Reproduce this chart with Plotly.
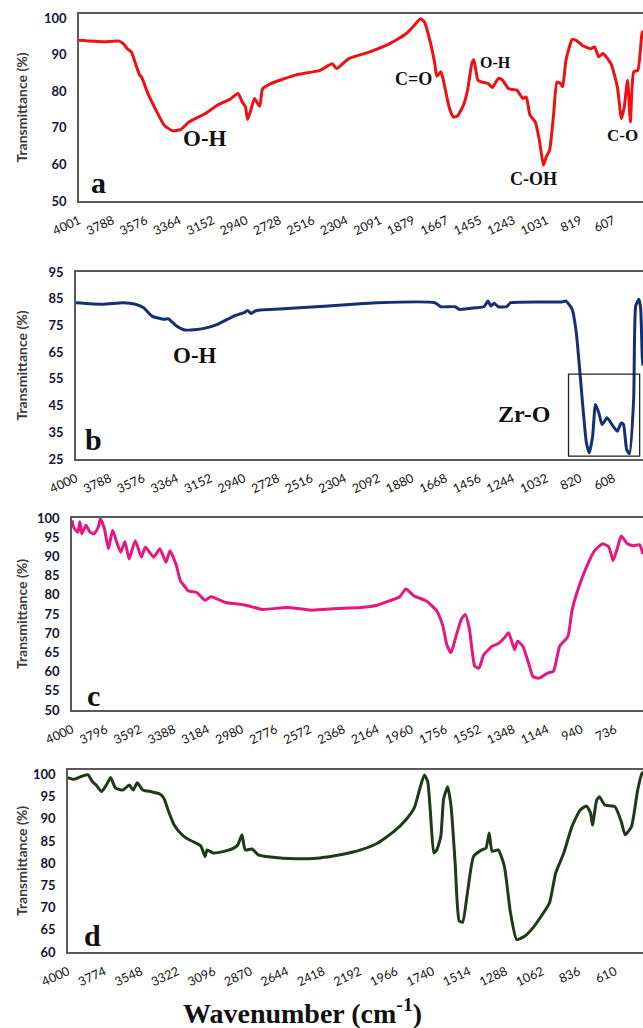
import plotly.graph_objects as go

W, H = 643, 1028

# ---------------- data ----------------
wn_a = [4001, 3850, 3746, 3720, 3694, 3668, 3642, 3616, 3604, 3564, 3512, 3460, 3408, 3356, 3303, 3199,
        3121, 3043, 2991, 2965, 2944, 2931, 2913, 2887, 2866, 2853, 2835, 2783, 2627, 2471, 2393, 2366,
        2327, 2288, 2158, 2028, 1924, 1872, 1833, 1807, 1768, 1742, 1729, 1703, 1685, 1651, 1625, 1599,
        1560, 1534, 1507, 1494, 1468, 1442, 1403, 1377, 1338, 1312, 1273, 1221, 1182, 1161, 1138, 1104,
        1078, 1052, 1034, 1013, 987, 966, 943, 930, 909, 870, 844, 805, 753, 727, 701, 675, 623, 583,
        557, 539, 518, 500, 479, 453, 427, 420]
tr_a = [93.9, 93.5, 93.7, 93.0, 91.6, 90.7, 87.5, 84.4, 83.9, 79.4, 74.8, 70.7, 69.2, 69.5, 71.6, 73.9,
        76.2, 77.8, 79.4, 77.1, 75.7, 72.3, 74.4, 78.0, 76.6, 75.9, 80.7, 82.1, 84.4, 85.7, 87.5, 86.2,
        87.5, 88.9, 90.7, 93.0, 95.7, 98.0, 99.8, 98.9, 93.0, 87.5, 84.1, 85.3, 82.5, 75.7, 73.0, 73.2,
        76.2, 80.3, 87.5, 88.6, 83.0, 82.5, 82.1, 81.0, 83.5, 83.0, 80.7, 80.3, 78.0, 78.4, 73.5, 71.6,
        66.6, 59.8, 62.1, 63.9, 73.9, 82.5, 82.1, 81.2, 88.5, 94.1, 93.9, 92.5, 91.6, 92.1, 89.4, 90.3,
        87.5, 81.2, 72.5, 75.7, 83.0, 71.6, 85.3, 85.7, 95.7, 96.5]

wn_b = [4000, 3832, 3702, 3625, 3573, 3521, 3444, 3418, 3366, 3314, 3237, 3185, 3107, 3004, 2939, 2918,
        2895, 2862, 2668, 2409, 2098, 1736, 1697, 1607, 1581, 1477, 1426, 1400, 1382, 1361, 1335, 1283,
        1257, 934, 908, 869, 843, 818, 800, 779, 761, 740, 722, 701, 680, 649, 611, 585, 559, 545, 525,
        507, 481, 468, 448, 437, 427, 422]
tr_b = [83.5, 82.9, 83.5, 82.9, 81.6, 78.5, 77.3, 77.5, 74.8, 73.3, 73.5, 74.0, 75.4, 78.5, 79.8, 80.6,
        79.5, 80.6, 81.3, 82.3, 83.5, 83.5, 82.0, 82.0, 81.0, 81.6, 82.0, 84.1, 82.3, 83.3, 82.0, 82.0,
        83.5, 83.8, 84.1, 81.0, 72.3, 56.0, 43.5, 31.0, 27.3, 33.5, 45.4, 42.3, 37.9, 40.4, 37.3, 35.4,
        38.5, 37.9, 28.5, 27.0, 47.3, 82.3, 84.8, 81.6, 63.5, 60.0]

wn_c = [4000, 3990, 3965, 3953, 3941, 3916, 3892, 3867, 3842, 3830, 3805, 3781, 3756, 3731, 3707, 3682,
        3657, 3620, 3583, 3559, 3509, 3472, 3435, 3411, 3374, 3349, 3324, 3300, 3250, 3201, 3164, 3078,
        2955, 2856, 2708, 2560, 2412, 2264, 2166, 2092, 2030, 1993, 1944, 1870, 1808, 1771, 1747, 1722,
        1692, 1660, 1636, 1611, 1579, 1554, 1525, 1475, 1438, 1401, 1377, 1357, 1340, 1322, 1290, 1253,
        1229, 1192, 1142, 1106, 1069, 1019, 995, 958, 908, 859, 810, 773, 748, 723, 699, 662, 625, 588,
        568]
tr_c = [99.4, 97.6, 96.3, 99.0, 95.9, 98.1, 96.3, 95.9, 97.6, 99.8, 97.2, 92.0, 96.8, 93.7, 91.1, 93.9,
        89.3, 94.1, 89.8, 92.4, 89.8, 92.0, 88.5, 91.5, 87.8, 83.7, 82.3, 81.0, 80.6, 78.6, 79.5, 78.0,
        77.3, 76.2, 76.7, 76.0, 76.4, 76.7, 77.3, 78.4, 79.5, 81.5, 79.7, 78.4, 75.8, 71.9, 67.0, 64.9,
        69.2, 73.6, 74.9, 71.0, 61.4, 60.9, 64.4, 66.6, 67.3, 68.8, 70.1, 67.9, 65.7, 67.9, 66.6, 61.8,
        58.7, 58.3, 59.6, 60.1, 66.6, 69.2, 75.8, 81.5, 87.2, 91.5, 93.3, 92.4, 88.9, 92.0, 95.3, 93.3,
        92.8, 93.0, 90.6]

wn_d = [4000, 3964, 3914, 3875, 3850, 3825, 3792, 3756, 3736, 3705, 3659, 3621, 3596, 3571, 3537, 3482,
        3431, 3405, 3380, 3342, 3304, 3266, 3227, 3177, 3151, 3138, 3100, 3011, 2973, 2948, 2922, 2902,
        2859, 2821, 2745, 2592, 2440, 2313, 2186, 2084, 1982, 1906, 1855, 1817, 1792, 1771, 1754, 1733,
        1715, 1690, 1672, 1647, 1626, 1601, 1576, 1555, 1525, 1487, 1436, 1410, 1390, 1372, 1334, 1296,
        1258, 1220, 1169, 1118, 1067, 1016, 978, 928, 877, 826, 788, 762, 750, 724, 707, 674, 610, 572,
        547, 508, 470, 444, 437]
tr_d = [99.3, 98.9, 99.6, 99.9, 98.4, 97.6, 96.1, 98.0, 99.3, 96.9, 96.5, 97.6, 96.5, 98.1, 96.5, 96.1,
        95.6, 94.6, 92.0, 88.6, 86.8, 85.6, 84.9, 83.9, 81.5, 83.0, 82.3, 82.9, 83.4, 84.1, 86.4, 83.0,
        83.2, 81.9, 81.4, 81.0, 81.2, 81.9, 83.0, 84.5, 87.1, 89.8, 92.4, 97.2, 99.9, 98.4, 91.3, 82.3,
        83.0, 86.0, 94.6, 97.2, 92.7, 80.0, 67.0, 66.7, 73.3, 81.5, 83.0, 83.4, 86.8, 82.7, 83.0, 79.3,
        68.8, 62.8, 63.6, 65.5, 68.1, 71.1, 77.8, 82.3, 88.3, 92.0, 92.9, 91.3, 88.6, 94.2, 95.0, 93.1,
        92.7, 89.4, 86.4, 88.3, 96.5, 100.2, 100.6]

ticks_a = [4001, 3788, 3576, 3364, 3152, 2940, 2728, 2516, 2304, 2091, 1879, 1667, 1455, 1243, 1031, 819, 607]
ticks_b = [4000, 3788, 3576, 3364, 3152, 2940, 2728, 2516, 2304, 2092, 1880, 1668, 1456, 1244, 1032, 820, 608]
ticks_c = [4000, 3796, 3592, 3388, 3184, 2980, 2776, 2572, 2368, 2164, 1960, 1756, 1552, 1348, 1144, 940, 736]
ticks_d = [4000, 3774, 3548, 3322, 3096, 2870, 2644, 2418, 2192, 1966, 1740, 1514, 1288, 1062, 836, 610]

yticks_a = [50, 60, 70, 80, 90, 100]
yticks_b = [25, 35, 45, 55, 65, 75, 85, 95]
yticks_c = [50, 55, 60, 65, 70, 75, 80, 85, 90, 95, 100]
yticks_d = [60, 65, 70, 75, 80, 85, 90, 95, 100]

# ---------------- figure ----------------
panels = [
    dict(wn=wn_a, tr=tr_a, color="#f01010", left=79, top=14, bottom=201, xr=[4001, 420], yr=[50, 101.1],
         xt=ticks_a, yt=yticks_a, letter="a", lpos=(98, 182)),
    dict(wn=wn_b, tr=tr_b, color="#142f72", left=76, top=272, bottom=459, xr=[4000, 422], yr=[25, 95],
         xt=ticks_b, yt=yticks_b, letter="b", lpos=(93, 439)),
    dict(wn=wn_c, tr=tr_c, color="#e6187f", left=72, top=518, bottom=710, xr=[4000, 568], yr=[50, 100],
         xt=ticks_c, yt=yticks_c, letter="c", lpos=(93, 695)),
    dict(wn=wn_d, tr=tr_d, color="#1e3a18", left=68, top=770, bottom=952, xr=[4000, 437], yr=[60, 101],
         xt=ticks_d, yt=yticks_d, letter="d", lpos=(92, 935)),
]

fig = go.Figure()
layout = dict(width=W, height=H, margin=dict(l=0, r=0, t=0, b=0, autoexpand=False),
              paper_bgcolor="white", plot_bgcolor="white", showlegend=False)
annotations = []
SERIF = "Liberation Serif, Times New Roman, serif"
SANS = "Lato, Liberation Sans, Arial, sans-serif"


def px_note(text, x, y, font, angle=0):
    return dict(text=text, x=x / W, y=1 - y / H, xref="paper", yref="paper", showarrow=False,
                xanchor="center", yanchor="middle", textangle=angle, font=font)


for i, p in enumerate(panels):
    n = "" if i == 0 else str(i + 1)
    fig.add_trace(go.Scatter(x=p["wn"], y=p["tr"], mode="lines",
                             line=dict(color=p["color"], width=3, shape="spline", smoothing=0.5),
                             xaxis="x" + n, yaxis="y" + n, hoverinfo="skip"))
    layout["xaxis" + n] = dict(
        domain=[p["left"] / W, 1], range=p["xr"], anchor="y" + n, automargin=False,
        tickmode="array", tickvals=p["xt"], ticktext=[str(t) for t in p["xt"]],
        tickangle=-25, ticks="", ticklabelstandoff=6,
        tickfont=dict(family=SANS, size=12.5, color="#111111"),
        showline=True, mirror=True, linecolor="#5a5a5a", linewidth=1.5,
        showgrid=False, zeroline=False, fixedrange=True)
    layout["yaxis" + n] = dict(
        domain=[1 - p["bottom"] / H, 1 - p["top"] / H], range=p["yr"], anchor="x" + n, automargin=False,
        tickmode="array", tickvals=p["yt"], ticks="", ticklabelstandoff=8,
        tickfont=dict(family=SANS, size=13, color="#141433", weight="bold"),
        showline=True, mirror=False, linecolor="#5a5a5a", linewidth=1.5,
        showgrid=False, zeroline=False, fixedrange=True)
    mid = (p["top"] + p["bottom"]) / 2
    annotations.append(px_note("Transmittance (%)", 21, mid,
                               dict(family=SANS, size=14, color="#3a3a3a", weight="bold"), angle=-90))
    annotations.append(px_note(p["letter"], p["lpos"][0], p["lpos"][1],
                               dict(family=SERIF, size=30, color="#111111", weight="bold")))

# band labels (pixel-placed text)
labels = [("O-H", 205, 139, 23), ("C=O", 413, 79, 18), ("O-H", 495, 62, 16), ("C-OH", 533, 179, 18),
          ("C-O", 622, 136, 17), ("O-H", 195, 355, 23), ("Zr-O", 524, 414, 24)]
for t, x, y, s in labels:
    annotations.append(px_note(t, x, y, dict(family=SERIF, size=s, color="#111111", weight="bold")))

annotations.append(px_note("Wavenumber (cm<sup>-1</sup>)", 302, 1011,
                           dict(family=SERIF, size=28, color="#111111", weight="bold")))

layout["annotations"] = annotations
layout["shapes"] = [dict(type="rect", xref="x2", yref="y2", x0=892, x1=443, y0=26.1, y1=56.8,
                         line=dict(color="#222222", width=1.3))]
fig.update_layout(**layout)
fig.write_html("out.html")
